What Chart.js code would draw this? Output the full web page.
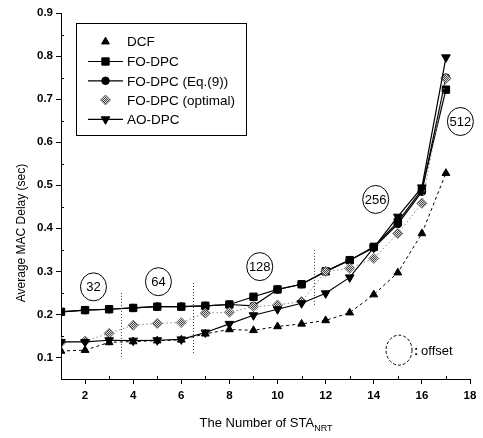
<!DOCTYPE html>
<html>
<head>
<meta charset="utf-8">
<script src="https://cdn.jsdelivr.net/npm/chart.js@4.4.1/dist/chart.umd.min.js"></script>
<style>
html, body { margin: 0; padding: 0; background: #fff; }
#wrap { width: 483px; height: 438px; }
</style>
</head>
<body>
<div id="wrap"><canvas id="chart" width="483" height="438"></canvas></div>
<script>
// data
const staNum = [1, 2, 3, 4, 5, 6, 7, 8, 9, 10, 11, 12, 13, 14, 15, 16, 17];
const dcf    = [0.115, 0.117, 0.135, 0.137, 0.139, 0.141, 0.155, 0.165, 0.163, 0.172, 0.178, 0.186, 0.204, 0.246, 0.297, 0.388, 0.528];
const foDpc  = [0.206, 0.210, 0.212, 0.215, 0.218, 0.218, 0.220, 0.223, 0.241, 0.258, 0.270, 0.300, 0.326, 0.357, 0.415, 0.490, 0.722];
const foEq9  = [0.206, 0.210, 0.212, 0.215, 0.218, 0.218, 0.220, 0.223, 0.220, 0.258, 0.270, 0.300, 0.326, 0.355, 0.410, 0.485, 0.750];
const foOpt  = [0.135, 0.138, 0.156, 0.175, 0.179, 0.181, 0.203, 0.205, 0.218, 0.222, 0.230, 0.300, 0.307, 0.330, 0.388, 0.458, 0.748];
const aoDpc  = [0.136, 0.136, 0.140, 0.139, 0.140, 0.142, 0.158, 0.178, 0.198, 0.212, 0.226, 0.249, 0.286, 0.355, 0.427, 0.495, 0.797];
const seriesNames = ['DCF', 'FO-DPC', 'FO-DPC (Eq.(9))', 'FO-DPC (optimal)', 'AO-DPC'];
const xTicks = [2, 4, 6, 8, 10, 12, 14, 16, 18];
const yTicks = [0.1, 0.2, 0.3, 0.4, 0.5, 0.6, 0.7, 0.8, 0.9];
const offsetLabels = ['32', '64', '128', '256', '512'];

const FONT = "'Liberation Sans', Arial, sans-serif";

// gray checker pattern for the "optimal" markers
const pc = document.createElement('canvas');
pc.width = 2; pc.height = 2;
const pctx = pc.getContext('2d');
pctx.fillStyle = '#ddd'; pctx.fillRect(0, 0, 2, 2);
pctx.fillStyle = '#444'; pctx.fillRect(0, 0, 1, 1); pctx.fillRect(1, 1, 1, 1);
const ctxMain = document.getElementById('chart').getContext('2d');
const checker = ctxMain.createPattern(pc, 'repeat');

function pts(arr) {
    return arr.map((v, i) => ({ x: staNum[i], y: v }));
}

// legend, notes, minor ticks and axis titles
const decor = {
    id: 'decor',
    afterDraw(chart) {
        const ctx = chart.ctx;
        const xs = chart.scales.x, ys = chart.scales.y;
        ctx.save();
        ctx.strokeStyle = '#000';
        ctx.fillStyle = '#000';
        ctx.lineWidth = 1;

        // minor ticks
        ctx.beginPath();
        for (let v = 1; v <= 17; v += 2) {
            const px = Math.round(xs.getPixelForValue(v)) + 0.5;
            ctx.moveTo(px, ys.bottom); ctx.lineTo(px, ys.bottom - 3);
        }
        for (let k = 1; k < 9; k++) {
            const py = Math.round(ys.getPixelForValue(0.05 + k * 0.1)) + 0.5;
            ctx.moveTo(xs.left, py); ctx.lineTo(xs.left + 3, py);
        }
        ctx.stroke();

        // offset region boundaries
        ctx.setLineDash([1, 2]);
        ctx.strokeStyle = '#333';
        [[3.5, 0.25, 0.1], [6.5, 0.273, 0.11], [11.5, 0.35, 0.22]].forEach(b => {
            const px = Math.round(xs.getPixelForValue(b[0])) + 0.5;
            ctx.beginPath();
            ctx.moveTo(px, ys.getPixelForValue(b[1]));
            ctx.lineTo(px, ys.getPixelForValue(b[2]));
            ctx.stroke();
        });
        ctx.setLineDash([]);
        ctx.strokeStyle = '#000';

        // offset circles
        const spots = [[2.35, 0.264], [5.05, 0.276], [9.26, 0.311], [14.08, 0.467], [17.6, 0.648]];
        ctx.font = '13px ' + FONT;
        ctx.textAlign = 'center';
        ctx.textBaseline = 'middle';
        offsetLabels.forEach((t, i) => {
            const cx = xs.getPixelForValue(spots[i][0]);
            const cy = ys.getPixelForValue(spots[i][1]);
            ctx.beginPath();
            ctx.ellipse(cx, cy, 13, 14, 0, 0, Math.PI * 2);
            ctx.stroke();
            ctx.fillText(t, cx, cy + 1);
        });
        // ": offset" key
        const ox = xs.getPixelForValue(15.05), oy = ys.getPixelForValue(0.117);
        ctx.setLineDash([3, 2]);
        ctx.beginPath();
        ctx.ellipse(ox, oy, 13, 15, 0, 0, Math.PI * 2);
        ctx.stroke();
        ctx.setLineDash([]);
        ctx.textAlign = 'left';
        ctx.font = 'bold 13px ' + FONT;
        ctx.fillText(':', ox + 15, oy + 1);
        ctx.font = '13px ' + FONT;
        ctx.fillText('offset', ox + 22, oy + 1);

        // legend
        ctx.strokeRect(76.5, 23.5, 170, 112);
        const rows = [41.7, 61.5, 80.8, 100, 119.3];
        const hasLine = [false, true, true, false, true];
        chart.data.datasets.forEach(ds => {
            const j = seriesNames.indexOf(ds.label);
            const y = rows[j];
            if (hasLine[j]) {
                ctx.beginPath();
                ctx.moveTo(88, y); ctx.lineTo(123, y);
                ctx.lineWidth = 1.2;
                ctx.stroke();
            }
            ctx.lineWidth = 1;
            ctx.fillStyle = ds.pointBackgroundColor;
            ctx.strokeStyle = ds.pointBorderColor;
            Chart.helpers.drawPoint(ctx, {
                pointStyle: ds.pointStyle,
                radius: ds.pointRadius,
                rotation: ds.pointRotation || 0,
                borderWidth: 1
            }, 105.5, y);
            ctx.fillStyle = '#000';
            ctx.strokeStyle = '#000';
            ctx.font = '13.5px ' + FONT;
            ctx.textAlign = 'left';
            ctx.textBaseline = 'middle';
            ctx.fillText(ds.label, 127, y + 1);
        });

        // axis titles
        ctx.font = '12px ' + FONT;
        ctx.textAlign = 'center';
        ctx.textBaseline = 'middle';
        ctx.save();
        ctx.translate(22, 233);
        ctx.rotate(-Math.PI / 2);
        ctx.fillText('Average MAC Delay (sec)', 0, 0);
        ctx.restore();

        ctx.font = '13px ' + FONT;
        ctx.textAlign = 'left';
        ctx.textBaseline = 'alphabetic';
        const main = 'The Number of STA';
        const w1 = ctx.measureText(main).width;
        ctx.font = '9px ' + FONT;
        const w2 = ctx.measureText('NRT').width;
        const sx = 266 - (w1 + w2) / 2;
        ctx.font = '13px ' + FONT;
        ctx.fillText(main, sx, 427);
        ctx.font = '9px ' + FONT;
        ctx.fillText('NRT', sx + w1, 431);
        ctx.restore();
    }
};

new Chart(ctxMain, {
    type: 'line',
    data: {
        datasets: [
            {
                label: 'DCF', data: pts(dcf), order: 5,
                borderColor: '#000', borderWidth: 1, borderDash: [3, 3],
                pointStyle: 'triangle', pointRadius: 4.5,
                pointBackgroundColor: '#000', pointBorderColor: '#000', pointBorderWidth: 1
            },
            {
                label: 'FO-DPC (Eq.(9))', data: pts(foEq9), order: 4,
                borderColor: '#000', borderWidth: 1.2,
                pointStyle: 'circle', pointRadius: 3.8,
                pointBackgroundColor: '#000', pointBorderColor: '#000', pointBorderWidth: 1
            },
            {
                label: 'FO-DPC', data: pts(foDpc), order: 3,
                borderColor: '#000', borderWidth: 1.2,
                pointStyle: 'rect', pointRadius: 5.2,
                pointBackgroundColor: '#000', pointBorderColor: '#000', pointBorderWidth: 1
            },
            {
                label: 'FO-DPC (optimal)', data: pts(foOpt), order: 2,
                borderColor: '#888', borderWidth: 1, borderDash: [1.5, 2.5],
                pointStyle: 'rectRot', pointRadius: 5,
                pointBackgroundColor: checker, pointBorderColor: '#777', pointBorderWidth: 1
            },
            {
                label: 'AO-DPC', data: pts(aoDpc), order: 1,
                borderColor: '#000', borderWidth: 1.2,
                pointStyle: 'triangle', pointRotation: 180, pointRadius: 5,
                pointBackgroundColor: '#000', pointBorderColor: '#000', pointBorderWidth: 1
            }
        ]
    },
    options: {
        responsive: false,
        animation: false,
        layout: { padding: { top: 13, right: 13, left: 0, bottom: 0 } },
        plugins: { legend: { display: false }, tooltip: { enabled: false } },
        elements: { line: { tension: 0 } },
        scales: {
            x: {
                type: 'linear', min: 1, max: 18,
                afterFit: s => { s.height = 59; },
                afterBuildTicks: s => { s.ticks = xTicks.map(v => ({ value: v })); },
                grid: { drawOnChartArea: false, drawTicks: true, tickLength: 5, color: '#000' },
                border: { display: true, color: '#000', width: 1 },
                ticks: { color: '#000', padding: 5, font: { family: FONT, size: 11.5, weight: 'bold' }, maxRotation: 0 }
            },
            y: {
                type: 'linear', min: 0.05, max: 0.9,
                afterFit: s => { s.width = 61; },
                afterBuildTicks: s => { s.ticks = yTicks.map(v => ({ value: v })); },
                grid: { drawOnChartArea: false, drawTicks: true, tickLength: 5, color: '#000' },
                border: { display: true, color: '#000', width: 1 },
                ticks: { color: '#000', padding: 3, font: { family: FONT, size: 11.5, weight: 'bold' },
                    callback: v => v.toFixed(1) }
            }
        }
    },
    plugins: [decor]
});
</script>
</body>
</html>
